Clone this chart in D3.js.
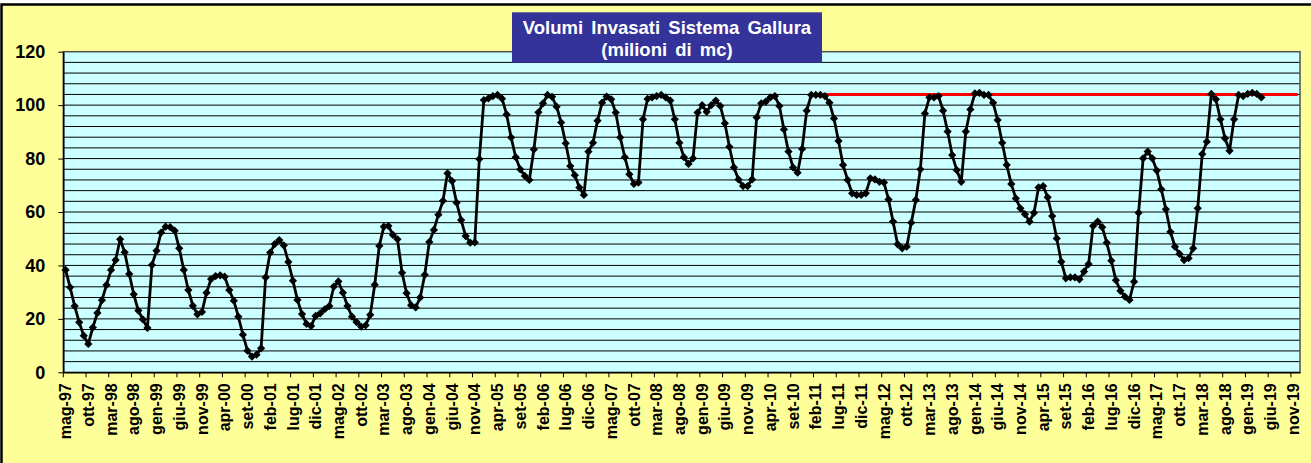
<!DOCTYPE html>
<html>
<head>
<meta charset="utf-8">
<script src="https://cdn.jsdelivr.net/npm/d3@7"></script>
<style>
  body { margin: 0; background: #ffffff; }
  .chart-container { width: 1311px; height: 463px; }
  text { font-family: Arial, "Liberation Sans", sans-serif; font-weight: bold; }
</style>
</head>
<body>
<div class="chart-container"></div>
<script>
/********** the Data **********/
// monthly categories start at mag-97 and run to dic-19
const monthNames = ["gen", "feb", "mar", "apr", "mag", "giu", "lug", "ago", "set", "ott", "nov", "dic"];
const firstMonth = 4;      // mag
const firstYear = 1997;
const monthCount = 272;

// labels shown on the x axis (every 5 months)
const tickLabels = [
  "mag-97", "ott-97", "mar-98", "ago-98", "gen-99", "giu-99", "nov-99", "apr-00", "set-00", "feb-01",
  "lug-01", "dic-01", "mag-02", "ott-02", "mar-03", "ago-03", "gen-04", "giu-04", "nov-04", "apr-05",
  "set-05", "feb-06", "lug-06", "dic-06", "mag-07", "ott-07", "mar-08", "ago-08", "gen-09", "giu-09",
  "nov-09", "apr-10", "set-10", "feb-11", "lug-11", "dic-11", "mag-12", "ott-12", "mar-13", "ago-13",
  "gen-14", "giu-14", "nov-14", "apr-15", "set-15", "feb-16", "lug-16", "dic-16", "mag-17", "ott-17",
  "mar-18", "ago-18", "gen-19", "giu-19", "nov-19"
];

// stored volumes (milioni di mc), one per month from mag-97 to apr-19
const volumes = [
  38.3, 31.8, 24.8, 18.7, 13.7, 10.6, 16.8, 22.2, 27.0, 32.7,
  38.3, 42.0, 49.8, 44.9, 36.8, 29.2, 23.1, 19.8, 16.6, 40.2,
  45.5, 52.3, 54.5, 54.3, 53.0, 46.4, 38.3, 30.8, 24.9, 21.7,
  22.6, 29.8, 34.9, 36.0, 36.3, 35.8, 30.8, 26.8, 20.8, 14.1,
  8.1, 5.9, 6.6, 9.0, 35.5, 44.8, 48.0, 49.5, 47.5, 41.3,
  34.3, 27.1, 21.8, 18.1, 17.3, 21.1, 22.1, 23.6, 24.8, 32.1,
  34.0, 29.8, 24.8, 20.8, 18.8, 17.1, 17.6, 21.5, 32.8, 47.3,
  54.5, 54.8, 51.4, 49.8, 37.3, 29.6, 25.1, 24.3, 28.0, 36.5,
  48.8, 53.3, 59.0, 64.2, 74.5, 71.6, 63.5, 57.0, 51.0, 48.5,
  48.6, 79.8, 101.9, 102.5, 103.4, 103.8, 102.4, 96.5, 87.9, 80.5,
  76.0, 73.5, 72.0, 83.4, 97.3, 100.7, 103.8, 103.1, 99.4, 93.5,
  85.7, 77.2, 73.8, 69.2, 66.4, 82.6, 85.9, 94.2, 100.9, 103.2,
  102.2, 97.2, 87.9, 80.5, 74.1, 70.5, 71.0, 94.7, 102.3, 102.9,
  103.4, 103.8, 102.9, 101.7, 94.7, 85.9, 80.5, 78.0, 80.1, 97.2,
  100.0, 97.5, 100.0, 101.7, 99.7, 93.2, 84.4, 76.7, 72.2, 69.7,
  69.7, 72.2, 95.4, 100.7, 101.3, 102.9, 103.4, 99.7, 90.9, 82.6,
  76.7, 74.7, 83.6, 97.9, 103.8, 103.8, 103.8, 103.4, 100.9, 95.0,
  86.6, 77.6, 72.0, 67.0, 66.4, 66.4, 67.0, 72.6, 72.2, 71.3,
  71.0, 64.7, 56.4, 47.9, 46.4, 47.0, 56.0, 64.5, 76.0, 96.9,
  102.9, 102.9, 103.4, 97.9, 90.1, 81.3, 75.7, 71.3, 90.1, 98.4,
  104.4, 104.6, 103.8, 103.8, 100.9, 94.4, 85.9, 77.6, 70.5, 65.1,
  61.4, 59.2, 56.4, 59.7, 69.2, 69.7, 65.5, 58.5, 50.1, 41.4,
  35.2, 35.5, 35.5, 34.8, 37.7, 40.5, 54.8, 56.4, 54.3, 48.5,
  41.8, 34.5, 30.5, 28.3, 27.1, 33.9, 59.7, 80.1, 82.6, 80.1,
  75.5, 68.5, 61.0, 52.6, 47.0, 44.3, 42.0, 42.7, 46.4, 61.4,
  81.7, 86.3, 104.2, 102.2, 94.7, 87.6, 82.9, 94.7, 103.8, 103.4,
  104.2, 104.6, 104.2, 102.9
];

// reference level (red line), from gen-11 to the end of the axis
const capacityValue = 104;
const capacityFrom = "gen-11";

const yTicks = [0, 20, 40, 60, 80, 100, 120];
const yMax = 120;
const gridStep = 4;

const titleLines = ["Volumi Invasati Sistema Gallura", "(milioni di mc)"];

/********** build categories **********/
let categories = d3.range(monthCount).map(function (i) {
  let m = (firstMonth + i) % 12;
  let y = firstYear + Math.floor((firstMonth + i) / 12);
  return monthNames[m] + "-" + String(y % 100).padStart(2, "0");
});

let volumeData = volumes.map((v, i) => ({cat: categories[i], value: v}));
let capIndex = categories.indexOf(capacityFrom);
let capacityData = categories.slice(capIndex).map(c => ({cat: c, value: capacityValue}));

/********** drawChart function **********/
function drawChart() {
  let width = 1311;
  let height = 463;
  let margin = {top: 51.7, right: 11, bottom: 90.7, left: 63.3};

  let svg = d3.select(".chart-container")
    .append("svg")
      .attr("width", width)
      .attr("height", height);

  // outer chart area (yellow) with border on top / left
  svg.append("rect")
    .attr("x", 1.5)
    .attr("y", 4.5)
    .attr("width", width + 20)
    .attr("height", height + 20)
    .attr("fill", "#ffff99")
    .attr("stroke", "#000")
    .attr("stroke-width", 2.5);

  /***** scales *****/
  let xScale = d3.scaleBand()
    .domain(categories)
    .range([margin.left, width - margin.right])
    .padding(0);
  let half = xScale.bandwidth() / 2;
  let cx = d => xScale(d.cat) + half;

  let yScale = d3.scaleLinear()
    .domain([0, yMax])
    .range([height - margin.bottom, margin.top]);

  let plotW = width - margin.right - margin.left;
  let plotH = height - margin.bottom - margin.top;

  // plot area
  svg.append("rect")
    .attr("x", margin.left)
    .attr("y", margin.top)
    .attr("width", plotW)
    .attr("height", plotH)
    .attr("fill", "#ccffff");

  // horizontal gridlines every 4
  svg.append("g")
    .attr("class", "grid")
    .selectAll("line")
    .data(d3.range(gridStep, yMax, gridStep))
    .enter().append("line")
      .attr("x1", margin.left)
      .attr("x2", margin.left + plotW)
      .attr("y1", d => yScale(d))
      .attr("y2", d => yScale(d))
      .attr("stroke", "#000")
      .attr("stroke-width", 1);

  // plot border
  svg.append("rect")
    .attr("x", margin.left)
    .attr("y", margin.top)
    .attr("width", plotW)
    .attr("height", plotH)
    .attr("fill", "none")
    .attr("stroke", "#505050")
    .attr("stroke-width", 1.5);

  /***** axes *****/
  let yAxis = d3.axisLeft(yScale)
    .tickValues(yTicks)
    .tickSize(5)
    .tickPadding(13)
    .tickSizeOuter(0);

  let yG = svg.append("g")
    .attr("class", "y-axis")
    .attr("transform", `translate(${margin.left}, 0)`)
    .call(yAxis);
  yG.select(".domain").attr("stroke", "#000").attr("stroke-width", 1.5);
  yG.selectAll("text").attr("font-size", 18).attr("fill", "#000");

  let xAxis = d3.axisBottom(xScale)
    .tickValues(tickLabels)
    .tickSize(5)
    .tickSizeOuter(0);

  let xG = svg.append("g")
    .attr("class", "x-axis")
    .attr("transform", `translate(0, ${height - margin.bottom})`)
    .call(xAxis);
  xG.select(".domain").attr("stroke", "#000").attr("stroke-width", 1.5);
  // tick marks sit on the category boundary, labels on the category centre
  xG.selectAll(".tick line")
    .attr("x1", -half)
    .attr("x2", -half);
  xG.selectAll(".tick text")
    .attr("font-size", 16)
    .attr("fill", "#000")
    .attr("transform", "rotate(-90)")
    .attr("text-anchor", "end")
    .attr("x", -11)
    .attr("y", 0)
    .attr("dy", "0.35em");

  /***** series *****/
  let line = d3.line()
    .x(cx)
    .y(d => yScale(d.value));

  svg.append("path")
    .datum(capacityData)
    .attr("class", "capacity")
    .attr("fill", "none")
    .attr("stroke", "#ff0000")
    .attr("stroke-width", 3)
    .attr("d", line);

  svg.append("path")
    .datum(volumeData)
    .attr("class", "volumes")
    .attr("fill", "none")
    .attr("stroke", "#000")
    .attr("stroke-width", 2.8)
    .attr("stroke-linejoin", "round")
    .attr("d", line);

  let diamond = d3.symbol().type(d3.symbolSquare).size(34);
  svg.selectAll(".marker")
      .data(volumeData)
    .enter().append("path")
      .attr("class", "marker")
      .attr("d", diamond)
      .attr("fill", "#000")
      .attr("transform", d => `translate(${cx(d)}, ${yScale(d.value)}) rotate(45)`);

  /***** title box *****/
  let tg = svg.append("g").attr("class", "title");
  tg.append("rect")
    .attr("x", 512)
    .attr("y", 12.3)
    .attr("width", 310)
    .attr("height", 50.4)
    .attr("fill", "#333399");
  tg.selectAll("text")
      .data(titleLines)
    .enter().append("text")
      .attr("x", 667)
      .attr("y", (d, i) => 34.3 + i * 21.7)
      .attr("text-anchor", "middle")
      .attr("fill", "#fff")
      .attr("font-size", 18.5)
      .attr("word-spacing", 3)
      .text(d => d);
}

drawChart();
</script>
</body>
</html>
